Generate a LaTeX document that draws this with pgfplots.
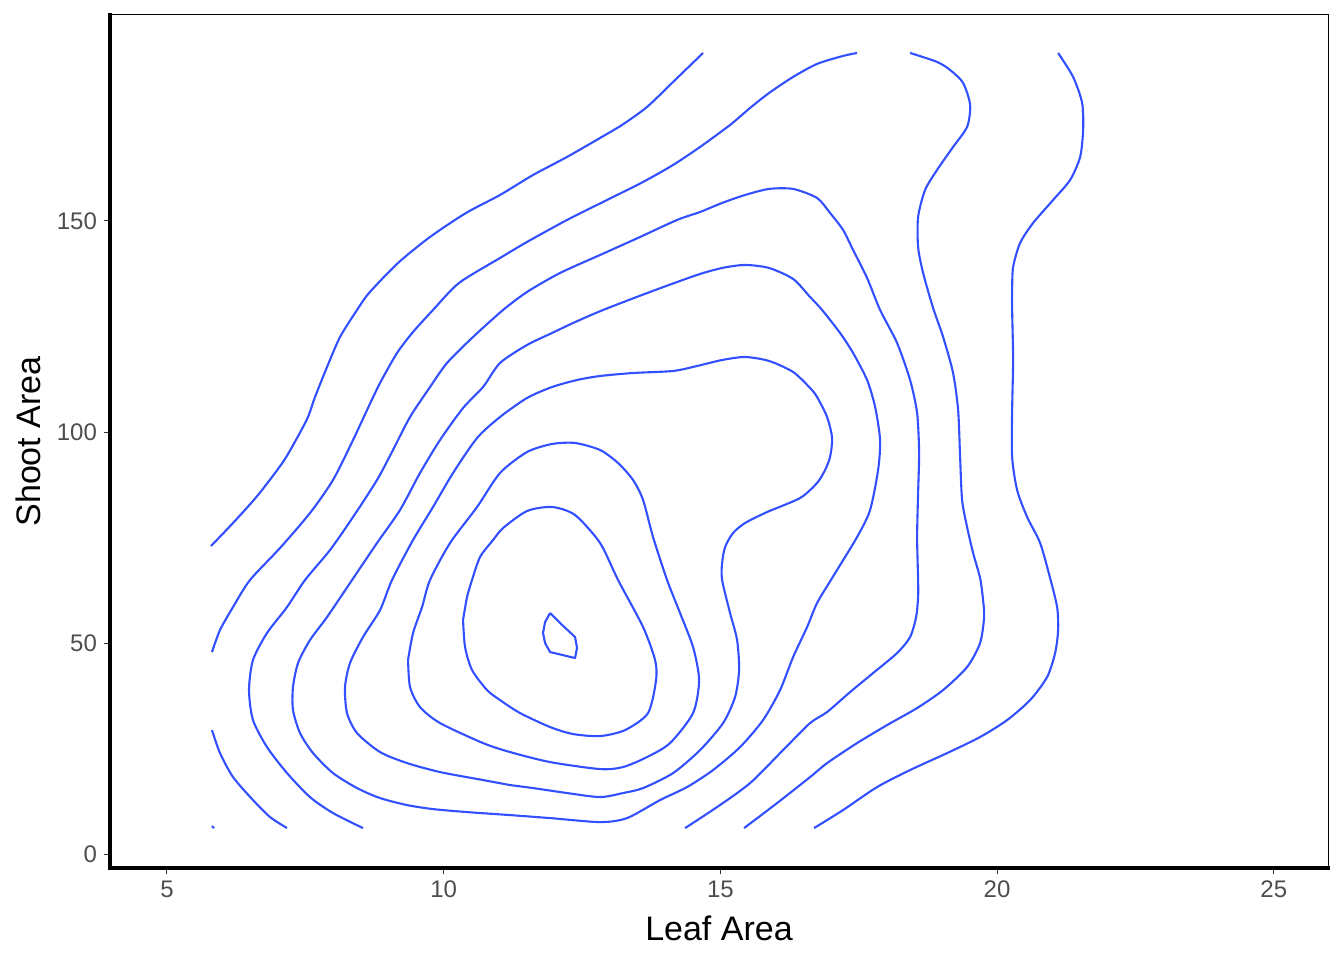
\documentclass[border=0pt]{standalone}
\usepackage{pgfplots}
\pgfplotsset{compat=1.18}
\usepackage{fontspec}
\setmainfont{Liberation Sans}
\definecolor{ctr}{RGB}{50,80,255}
\definecolor{ticktext}{RGB}{77,77,77}
\pgfplotsset{cl/.style={draw=ctr, solid, line width=1.05pt, line join=round, mark=none, smooth, tension=0.45}}
\begin{document}
\begin{tikzpicture}
\begin{axis}[
  scale only axis, width=609pt, height=426.5pt,
  xmin=3.97, xmax=25.98, ymin=-3.3, ymax=198.8,
  xtick={5,10,15,20,25}, ytick={0,50,100,150},
  axis line style={line width=0.5pt, black},
  tick pos=left, tick align=outside, major tick length=3pt,
  tick style={line width=0.5pt, black!80},
  /pgf/number format/assume math mode=true,
  ticklabel style={font=\fontsize{12}{14}\selectfont, text=ticktext},
  xlabel={Leaf Area}, ylabel={Shoot Area},
  label style={font=\fontsize{17}{20}\selectfont, text=black},
  xlabel style={at={(axis description cs:0.5,0)}, anchor=center, yshift=-30pt},
  ylabel style={at={(axis description cs:0,0.5)}, anchor=center, yshift=41pt},
  clip=false,
]
% outer top-left
\addplot[cl] coordinates {(5.795,72.99) (6.193,78.44) (6.645,85.07) (7.096,92.89) (7.350,98.58) (7.548,103.56) (7.675,108.30) (7.892,115.40) (8.127,122.51) (8.434,128.91) (8.651,132.94) (9.175,140.05) (9.753,146.21) (10.404,151.90) (11.018,156.16) (11.615,160.90) (12.229,165.17) (12.826,169.67) (13.223,172.75) (13.675,177.02) (14.145,182.94) (14.687,189.81)};
% second from top-left
\addplot[cl] coordinates {(5.813,47.87) (5.958,53.08) (6.193,58.53) (6.500,64.93) (7.042,72.51) (7.584,80.81) (8.000,88.63) (8.362,98.11) (8.615,105.21) (8.850,111.61) (9.157,118.72) (9.446,123.70) (9.807,128.91) (10.277,135.31) (11.018,141.23) (11.506,145.03) (12.229,150.24) (12.952,154.98) (13.603,159.24) (14.145,163.27) (14.633,167.54) (15.175,172.75) (15.537,176.78) (15.880,180.33) (16.314,184.13) (16.747,187.21) (17.217,189.10) (17.470,189.81)};
% bottom-left arc
\addplot[cl] coordinates {(5.813,29.38) (5.958,23.93) (6.193,18.25) (6.554,12.80) (6.862,8.77) (7.169,6.16)};
\addplot[cl] coordinates {(5.813,6.64) (5.849,6.16)};
% L4 open
\addplot[cl] coordinates {(8.542,6.16) (8.000,9.72) (7.584,13.51) (7.169,19.19) (6.807,25.36) (6.554,31.75) (6.482,38.86) (6.554,45.97) (6.807,52.37) (7.169,58.53) (7.494,64.93) (7.946,72.04) (8.362,79.86) (8.795,88.63) (9.084,95.74) (9.392,103.56) (9.753,110.66) (10.060,116.35) (10.530,122.51) (11.073,128.91) (11.506,133.18) (12.103,137.68) (12.826,141.94) (13.549,146.21) (14.217,150.24) (14.633,152.13) (15.031,154.27) (15.446,156.16) (15.880,157.59) (16.314,157.59) (16.747,155.45) (16.982,151.90) (17.217,147.87) (17.398,143.13) (17.651,136.49) (17.886,128.91) (18.193,121.09) (18.428,112.32) (18.555,104.50) (18.591,95.03) (18.573,85.55) (18.555,75.12) (18.573,64.93) (18.573,60.90) (18.537,56.16) (18.428,51.42) (18.193,47.63) (17.760,42.89) (17.344,38.39) (16.928,33.65) (16.621,31.04) (16.133,24.64) (15.537,16.82) (14.940,11.14) (14.362,6.16)};
% L5 closed
\addplot[cl] coordinates {(11.199,9.24) (10.422,9.95) (9.807,10.66) (9.338,11.61) (8.850,13.27) (8.434,15.64) (8.000,19.19) (7.639,23.93) (7.404,28.67) (7.277,34.12) (7.277,39.57) (7.368,45.26) (7.584,50.71) (7.892,56.16) (8.344,64.93) (8.795,73.70) (9.211,81.52) (9.572,90.29) (9.934,98.11) (10.350,105.69) (10.711,110.66) (11.018,116.35) (11.506,120.62) (11.958,123.46) (12.338,125.83) (12.880,128.91) (13.729,133.18) (14.579,137.21) (15.031,138.86) (15.446,139.58) (15.880,138.86) (16.314,136.26) (16.621,131.99) (16.838,128.91) (17.163,123.46) (17.398,118.72) (17.651,112.32) (17.796,105.93) (17.886,98.11) (17.850,91.00) (17.705,81.52) (17.470,75.12) (17.019,65.40) (16.747,59.48) (16.567,53.79) (16.314,46.68) (16.079,38.86) (15.771,31.75) (15.356,25.36) (14.868,19.91) (14.398,15.88) (13.910,12.80) (13.314,8.53) (12.826,7.58) (11.922,8.53) (11.199,9.24)};
% L6 closed
\addplot[cl] coordinates {(11.199,16.35) (10.711,17.54) (9.934,19.43) (9.338,21.56) (8.850,24.17) (8.434,28.67) (8.253,33.41) (8.217,39.57) (8.307,45.26) (8.542,51.42) (8.850,57.82) (9.066,64.93) (9.446,74.41) (9.807,82.23) (10.169,90.29) (10.603,98.58) (11.018,103.56) (11.506,108.06) (11.958,110.66) (12.410,112.32) (12.826,113.27) (13.422,113.98) (14.145,114.46) (14.579,115.64) (15.031,117.06) (15.446,117.77) (15.880,116.83) (16.314,114.22) (16.621,110.43) (16.747,108.30) (16.928,103.56) (17.019,98.58) (16.982,94.08) (16.892,91.00) (16.747,87.92) (16.440,84.36) (15.844,81.04) (15.446,78.44) (15.229,76.07) (15.085,72.75) (15.031,68.96) (15.031,64.93) (15.175,57.11) (15.302,50.71) (15.338,43.60) (15.265,37.20) (15.049,31.04) (14.633,24.64) (14.145,19.19) (13.603,15.64) (13.241,14.46) (12.826,13.51) (12.229,14.46) (11.615,15.64) (11.199,16.35)};
% L7 closed
\addplot[cl] coordinates {(9.356,45.97) (9.446,52.37) (9.609,58.53) (9.753,64.93) (10.115,73.70) (10.603,82.23) (11.018,90.29) (11.506,95.26) (11.958,97.16) (12.374,97.40) (12.826,95.74) (13.151,92.65) (13.422,88.63) (13.603,83.89) (13.783,75.12) (14.037,64.93) (14.271,57.11) (14.506,49.05) (14.615,41.23) (14.506,33.41) (14.091,26.30) (13.675,22.99) (13.241,20.62) (12.826,20.14) (11.922,21.80) (11.199,24.17) (10.711,26.30) (9.934,31.04) (9.572,34.83) (9.392,39.57) (9.356,45.97)};
% L8 closed
\addplot[cl] coordinates {(10.350,55.45) (10.422,60.90) (10.512,64.93) (10.657,70.38) (10.892,74.41) (11.073,77.25) (11.506,81.28) (11.958,82.23) (12.374,80.33) (12.826,73.70) (13.151,64.93) (13.603,53.79) (13.820,45.97) (13.838,41.23) (13.693,33.41) (13.278,29.38) (12.826,27.96) (12.338,28.44) (11.922,30.10) (11.380,33.41) (11.018,36.49) (10.783,38.86) (10.512,43.60) (10.386,49.05) (10.350,55.45)};
% L9 peak
\addplot[cl, sharp plot] coordinates {(11.922,57.11) (11.832,54.98) (11.795,52.37) (11.832,50.00) (11.922,47.87) (12.374,46.45) (12.410,48.82) (12.374,51.42) (12.103,54.74) (11.922,57.11)};
% right contour from top
\addplot[cl] coordinates {(18.428,189.81) (18.916,187.68) (19.151,185.78) (19.386,182.70) (19.513,177.49) (19.458,172.28) (19.205,167.54) (18.916,162.09) (18.699,157.35) (18.573,150.95) (18.573,143.84) (18.663,137.68) (18.844,129.39) (19.025,122.51) (19.205,113.98) (19.296,105.21) (19.332,94.08) (19.368,83.89) (19.458,77.49) (19.567,71.33) (19.693,65.40) (19.747,60.19) (19.766,56.16) (19.693,50.00) (19.458,44.31) (19.025,38.86) (18.555,34.60) (18.013,30.57) (17.470,26.30) (16.928,21.56) (16.621,18.25) (16.025,12.09) (15.428,6.16)};
% outermost right
\addplot[cl] coordinates {(21.103,189.81) (21.374,184.13) (21.537,177.96) (21.555,171.57) (21.501,165.17) (21.320,159.72) (21.013,154.98) (20.651,149.53) (20.416,144.79) (20.290,139.10) (20.272,133.65) (20.272,128.91) (20.290,117.06) (20.272,105.21) (20.272,94.08) (20.362,86.26) (20.543,79.86) (20.778,73.70) (20.958,65.40) (21.085,58.53) (21.103,53.08) (21.049,47.63) (20.904,41.94) (20.597,36.49) (20.181,31.75) (19.693,27.73) (19.097,23.93) (18.428,19.91) (17.832,15.88) (17.217,10.43) (16.693,6.16)};
\draw[line width=2pt, black, line cap=rect] (rel axis cs:0,1) -- (rel axis cs:0,0) -- (rel axis cs:1,0);
\coordinate (bl) at (rel axis cs:0,0);
\coordinate (tr) at (rel axis cs:1,1);
\end{axis}
\path ([xshift=-55pt,yshift=-46pt]bl) rectangle ([xshift=8pt,yshift=7.5pt]tr);
\end{tikzpicture}
\end{document}
